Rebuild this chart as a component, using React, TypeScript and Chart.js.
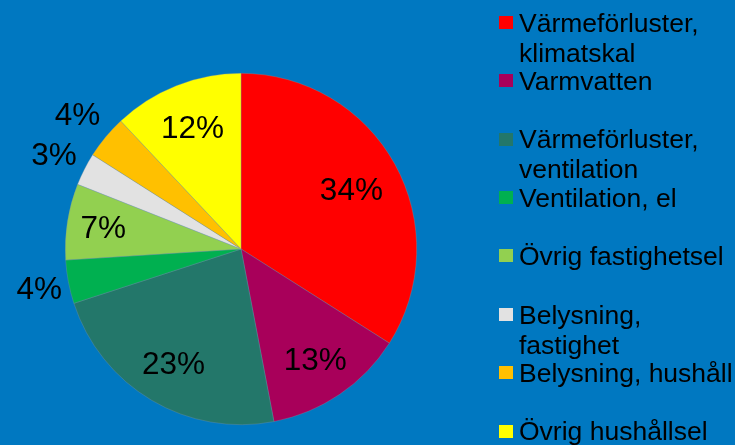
import React, { useEffect, useRef } from "react";
import { Chart, registerables } from "chart.js";

Chart.register(...registerables);

const categories: string[] = [
  "Värmeförluster,\nklimatskal",
  "Varmvatten",
  "Värmeförluster,\nventilation",
  "Ventilation, el",
  "Övrig fastighetsel",
  "Belysning,\nfastighet",
  "Belysning, hushåll",
  "Övrig hushållsel",
];

const shares: number[] = [34, 13, 23, 4, 7, 3, 4, 12];

const sliceColors: string[] = [
  "#FF0000",
  "#A8005A",
  "#23776A",
  "#00B050",
  "#92D050",
  "#E2E2E2",
  "#FFC000",
  "#FFFF00",
];

// label distance from centre, as a fraction of the radius
const labelRadius: number[] = [0.717, 0.752, 0.755, 1.169, 0.794, 1.194, 1.208, 0.751];

const BG = "#0078C1";
const FONT = "'Liberation Sans', Arial, sans-serif";

const percentLabels = {
  id: "percentLabels",
  afterDatasetsDraw(chart: any) {
    const ctx = chart.ctx;
    const meta = chart.getDatasetMeta(0);
    const data = chart.data.datasets[0].data as number[];
    const total = data.reduce((a, b) => a + b, 0);
    const size = 31.5;
    ctx.save();
    ctx.font = `${size}px ${FONT}`;
    ctx.fillStyle = "#000000";
    ctx.textAlign = "center";
    ctx.textBaseline = "alphabetic";
    meta.data.forEach((arc: any, i: number) => {
      const p = arc.getProps(["x", "y", "startAngle", "endAngle", "outerRadius"], true);
      const mid = (p.startAngle + p.endAngle) / 2;
      const r = p.outerRadius * labelRadius[i];
      const x = p.x + Math.cos(mid) * r;
      const y = p.y + Math.sin(mid) * r;
      const txt = Math.round((data[i] / total) * 100) + "%";
      ctx.fillText(txt, x, y + size * 0.358);
    });
    ctx.restore();
  },
};

export default function App() {
  const canvasRef = useRef<HTMLCanvasElement | null>(null);

  useEffect(() => {
    if (!canvasRef.current) return;
    const chart = new Chart(canvasRef.current, {
      type: "pie",
      data: {
        labels: categories,
        datasets: [
          {
            data: shares,
            backgroundColor: sliceColors,
            borderColor: "rgba(130,150,160,0.55)",
            borderWidth: 0.6,
          },
        ],
      },
      options: {
        responsive: false,
        animation: false,
        layout: { padding: { top: 73, bottom: 20, left: 65, right: 318 } },
        plugins: {
          legend: { display: false },
          tooltip: { enabled: false },
        },
      },
      plugins: [percentLabels],
    });
    return () => chart.destroy();
  }, []);

  return (
    <div
      style={{
        position: "fixed",
        left: 0,
        top: 0,
        width: 735,
        height: 445,
        background: BG,
        overflow: "hidden",
      }}
    >
      <canvas ref={canvasRef} width={735} height={445} style={{ position: "absolute", left: 0, top: 0 }} />
      {categories.map((c, i) => (
        <div
          key={i}
          style={{
            position: "absolute",
            left: 499,
            top: 7.6 + i * 58.4,
            fontFamily: FONT,
            fontSize: 26.5,
            lineHeight: "30px",
            color: "#000",
            whiteSpace: "pre",
          }}
        >
          <div
            style={{
              position: "absolute",
              left: 0,
              top: 8.2,
              width: 14,
              height: 13,
              background: sliceColors[i],
            }}
          />
          <div style={{ paddingLeft: 20 }}>{c}</div>
        </div>
      ))}
    </div>
  );
}
